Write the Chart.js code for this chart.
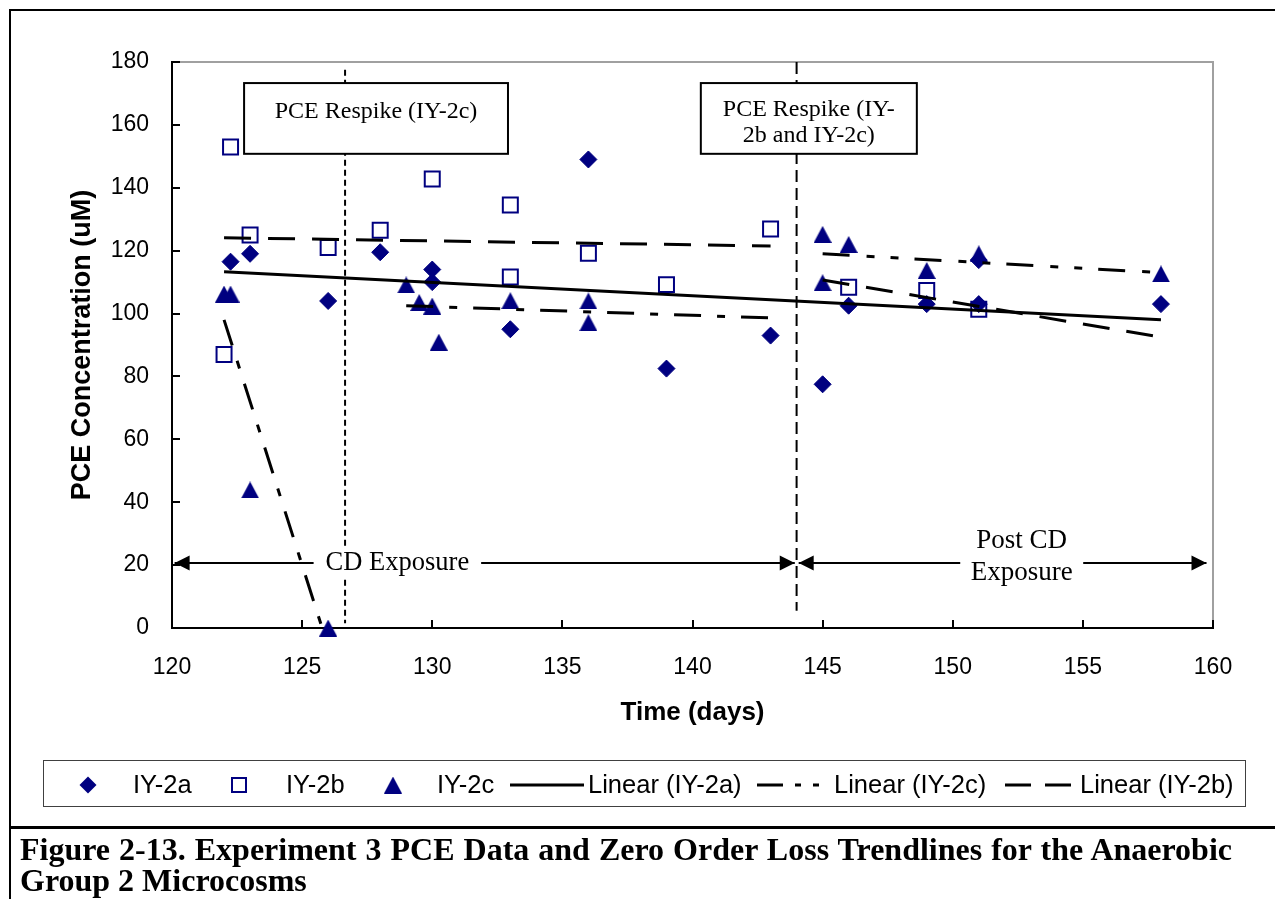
<!DOCTYPE html>
<html>
<head>
<meta charset="utf-8">
<title>PCE Data and Zero Order Loss Trendlines</title>
<script src="https://cdn.jsdelivr.net/npm/chart.js@4.4.0/dist/chart.umd.min.js"></script>
<style>
  html, body { margin: 0; padding: 0; background: #fff; }
  #page { position: relative; width: 1275px; height: 899px; overflow: hidden; background: #fff; }
  #chart { position: absolute; left: 0; top: 0; }
  .rule { position: absolute; background: #000; }
  #caption {
    position: absolute; left: 20px; top: 834px; width: 1212px; color: #000;
    font: bold 32px 'Liberation Serif', 'Times New Roman', serif; line-height: 31px;
  }
  #caption .first { text-align: justify; text-align-last: justify; white-space: nowrap; }
</style>
</head>
<body>
<div id="page">
  <canvas id="chart" width="1275" height="828"></canvas>
  <div class="rule" style="left:9px;top:9px;width:1266px;height:2px"></div>
  <div class="rule" style="left:9px;top:9px;width:2px;height:890px"></div>
  <div class="rule" style="left:9px;top:826px;width:1266px;height:3px"></div>
  <div id="caption">
    <div class="first">Figure 2-13. Experiment 3 PCE Data and Zero Order Loss Trendlines for the Anaerobic</div>
    <div>Group 2 Microcosms</div>
  </div>
</div>
<script>
// PCE concentrations (uM) by microcosm
const daysA = [122.25, 123, 126, 128, 130, 130, 133, 136, 139, 143, 145, 146, 149, 151, 151, 158];
const pceA  = [116.5, 119, 104, 119.5, 114, 110, 95, 149, 82.5, 93, 77.5, 102.5, 103, 117, 103, 103];

const daysB = [122, 122.25, 123, 126, 128, 130, 133, 133, 136, 139, 143, 146, 149, 151];
const pceB  = [87, 153, 125, 121, 126.5, 142.8, 134.5, 111.6, 119.2, 109.2, 126.9, 108.4, 107.3, 101.4];

const daysC = [122, 122.25, 123, 126, 129, 129.5, 130, 130.25, 133, 136, 136, 145, 145, 146, 149, 151, 158];
const pceC  = [106.2, 106.2, 43.9, 0, 109.1, 103.5, 102.4, 90.9, 104.1, 104, 97.1, 125.2, 109.8, 122, 113.7, 119, 112.6];

// zero order trendline end points
const trendDaysA = [122, 158];
const trendPceA  = [113.3, 98];
const trendDaysB1 = [122, 143];
const trendPceB1  = [124.1, 121.5];
const trendDaysB2 = [145, 157.7];
const trendPceB2  = [110.7, 92.9];
const trendDaysC1 = [122, 125.77];
const trendPceC1  = [98, 0];
const trendDaysC2 = [129, 143];
const trendPceC2  = [102.5, 98.6];
const trendDaysC3 = [145, 157.6];
const trendPceC3  = [119, 113.2];

// respike events (day) and the span of their marker lines
const respikeDays = [126.65, 144];
const respikeSpan1 = [177.5, 1.5];
const respikeSpan2 = [180, 5.5];

const navy = '#000080';
const sans = "'Liberation Sans', Arial, sans-serif";
const serif = "'Liberation Serif', 'Times New Roman', serif";

const pts = (xs, ys) => xs.map((v, i) => ({ x: v, y: ys[i] }));

// Excel-like triangle, centred on its bounding box
const triangle = document.createElement('canvas');
triangle.width = 18; triangle.height = 17;
(() => {
  const c = triangle.getContext('2d');
  c.fillStyle = navy;
  c.beginPath(); c.moveTo(9, 0); c.lineTo(18, 17); c.lineTo(0, 17); c.closePath(); c.fill();
})();

const markers = (label, xs, ys, style, radius, fill, bw) => ({
  label, data: pts(xs, ys), showLine: false, order: 3, clip: false,
  pointStyle: style, pointRadius: radius, pointHoverRadius: radius,
  pointBackgroundColor: fill, pointBorderColor: navy, pointBorderWidth: bw
});
const trend = (label, xs, ys, dash) => ({
  label, data: pts(xs, ys), showLine: true, order: 2,
  borderColor: '#000', borderWidth: 3, borderDash: dash, pointRadius: 0, pointHoverRadius: 0
});
const marker = (xs, ys, dash) => ({
  label: 'respike', data: pts(xs, ys), showLine: true, order: 1,
  borderColor: '#000', borderWidth: 2, borderDash: dash, pointRadius: 0, pointHoverRadius: 0
});

const dashC = [27, 16, 8, 16];
const dashC2 = [27, 17, 8, 16, 8, 16];
const dashB = [27, 17];

function arrowHead(ctx, tipX, y, dir) {
  ctx.beginPath();
  ctx.moveTo(tipX, y);
  ctx.lineTo(tipX - dir * 15, y - 7.5);
  ctx.lineTo(tipX - dir * 15, y + 7.5);
  ctx.closePath();
  ctx.fill();
}

function boxedText(ctx, x0, y0, x1, y1, lines) {
  ctx.fillStyle = '#fff';
  ctx.fillRect(x0, y0, x1 - x0, y1 - y0);
  ctx.strokeStyle = '#000';
  ctx.lineWidth = 2;
  ctx.strokeRect(x0, y0, x1 - x0, y1 - y0);
  ctx.fillStyle = '#000';
  ctx.font = '24px ' + serif;
  ctx.textAlign = 'center';
  ctx.textBaseline = 'alphabetic';
  lines.forEach(l => ctx.fillText(l.text, (x0 + x1) / 2, l.y));
}

const decorations = {
  id: 'decorations',
  beforeDraw(chart) {
    const { ctx, width, height } = chart;
    ctx.save();
    ctx.fillStyle = '#fff';
    ctx.fillRect(0, 0, width, height);
    ctx.restore();
  },
  beforeDatasetsDraw(chart) {
    const { ctx, chartArea: a, scales: { x, y } } = chart;
    ctx.save();
    ctx.strokeStyle = '#a0a0a0';
    ctx.lineWidth = 2;
    ctx.beginPath();
    ctx.moveTo(a.left, a.top); ctx.lineTo(a.right, a.top); ctx.lineTo(a.right, a.bottom);
    ctx.stroke();
    // tick marks point into the plot
    ctx.strokeStyle = '#000';
    x.ticks.forEach(t => {
      const p = Math.round(x.getPixelForValue(t.value));
      ctx.beginPath(); ctx.moveTo(p, a.bottom); ctx.lineTo(p, a.bottom - 8); ctx.stroke();
    });
    y.ticks.forEach(t => {
      const p = Math.round(y.getPixelForValue(t.value));
      ctx.beginPath(); ctx.moveTo(a.left, p); ctx.lineTo(a.left + 8, p); ctx.stroke();
    });
    ctx.restore();
  },
  afterDatasetsDraw(chart) {
    const { ctx, scales: { x, y } } = chart;
    const px = v => x.getPixelForValue(v);
    const py = v => y.getPixelForValue(v);
    ctx.save();

    // exposure periods
    const ay = Math.round(py(20.7));
    ctx.strokeStyle = '#000'; ctx.fillStyle = '#000'; ctx.lineWidth = 2;
    ctx.beginPath();
    ctx.moveTo(px(120.1), ay); ctx.lineTo(px(143.93), ay);
    ctx.moveTo(px(144.08), ay); ctx.lineTo(px(159.75), ay);
    ctx.stroke();
    arrowHead(ctx, px(120.1), ay, -1);
    arrowHead(ctx, px(143.93), ay, 1);
    arrowHead(ctx, px(144.08), ay, -1);
    arrowHead(ctx, px(159.75), ay, 1);

    ctx.textAlign = 'center';
    ctx.textBaseline = 'middle';
    ctx.font = '26.5px ' + serif;
    const cdX = px(128.66);
    const cdW = ctx.measureText('CD Exposure').width + 24;
    ctx.fillStyle = '#fff';
    ctx.fillRect(cdX - cdW / 2, ay - 15, cdW, 30);
    ctx.fillStyle = '#000';
    ctx.fillText('CD Exposure', cdX, ay);

    ctx.font = '27px ' + serif;
    const postX = px(152.65);
    const postW = ctx.measureText('Exposure').width + 21;
    ctx.fillStyle = '#fff';
    ctx.fillRect(postX - postW / 2, ay - 12, postW, 24);
    ctx.fillStyle = '#000';
    ctx.fillText('Post CD', postX, ay - 22);
    ctx.fillText('Exposure', postX, ay + 10);

    // respike notes
    boxedText(ctx, px(122.77), py(173.3), px(132.91), py(150.8),
      [{ text: 'PCE Respike (IY-2c)', y: py(162.2) }]);
    boxedText(ctx, px(140.32), py(173.3), px(148.62), py(150.8),
      [{ text: 'PCE Respike (IY-', y: py(162.8) }, { text: '2b and IY-2c)', y: py(154.5) }]);

    ctx.restore();
  },
  afterDraw(chart) {
    const { ctx } = chart;
    ctx.save();
    // legend
    ctx.strokeStyle = '#404040'; ctx.lineWidth = 1;
    ctx.strokeRect(43.5, 760.5, 1202, 46);
    const ly = 785;
    ctx.fillStyle = navy;
    ctx.beginPath();
    ctx.moveTo(79.5, ly); ctx.lineTo(88, ly - 8.5); ctx.lineTo(96.5, ly); ctx.lineTo(88, ly + 8.5);
    ctx.closePath(); ctx.fill();
    ctx.strokeStyle = navy; ctx.lineWidth = 2;
    ctx.strokeRect(232, ly - 7, 14, 14);
    ctx.drawImage(triangle, 393 - 9, ly - 8.5);

    ctx.strokeStyle = '#000'; ctx.lineWidth = 3;
    const sample = (x0, x1, dash) => {
      ctx.setLineDash(dash);
      ctx.beginPath(); ctx.moveTo(x0, ly); ctx.lineTo(x1, ly); ctx.stroke();
    };
    sample(510, 584, []);
    sample(757, 831, [26, 12, 6, 12, 6, 12]);
    sample(1005, 1076, [26, 14]);
    ctx.setLineDash([]);

    ctx.fillStyle = '#000';
    ctx.font = '25.5px ' + sans;
    ctx.textAlign = 'left';
    ctx.textBaseline = 'middle';
    [['IY-2a', 133], ['IY-2b', 286], ['IY-2c', 437],
     ['Linear (IY-2a)', 588], ['Linear (IY-2c)', 834], ['Linear (IY-2b)', 1080]]
      .forEach(([t, tx]) => ctx.fillText(t, tx, ly + 1));
    ctx.restore();
  }
};

new Chart(document.getElementById('chart'), {
  type: 'scatter',
  data: {
    datasets: [
      markers('IY-2a', daysA, pceA, 'rectRot', 8.5, navy, 1),
      markers('IY-2b', daysB, pceB, 'rect', 10.6, 'rgba(0,0,0,0)', 2),
      markers('IY-2c', daysC, pceC, triangle, 9, navy, 0),
      trend('Linear (IY-2a)', trendDaysA, trendPceA, []),
      trend('Linear (IY-2c)', trendDaysC1, trendPceC1, dashC),
      trend('Linear (IY-2c)', trendDaysC2, trendPceC2, dashC),
      trend('Linear (IY-2c)', trendDaysC3, trendPceC3, dashC2),
      trend('Linear (IY-2b)', trendDaysB1, trendPceB1, dashB),
      trend('Linear (IY-2b)', trendDaysB2, trendPceB2, dashB),
      marker([respikeDays[0], respikeDays[0]], respikeSpan1, [6, 4]),
      marker([respikeDays[1], respikeDays[1]], respikeSpan2, [12, 6])
    ]
  },
  options: {
    responsive: false,
    animation: false,
    devicePixelRatio: 1,
    events: [],
    layout: { padding: { left: 0, top: 62, right: 62, bottom: 100 } },
    plugins: { legend: { display: false }, tooltip: { enabled: false } },
    font: { family: sans },
    scales: {
      x: {
        type: 'linear', min: 120, max: 160,
        ticks: { stepSize: 5, color: '#000', padding: 26, font: { family: sans, size: 23 } },
        grid: { display: false, drawTicks: false },
        border: { display: true, color: '#000', width: 2 },
        title: {
          display: true, text: 'Time (days)', color: '#000',
          font: { family: sans, size: 26, weight: 'bold' }, padding: { top: 0, bottom: 0 }
        },
        afterFit: s => { s.height = 100; }
      },
      y: {
        type: 'linear', min: 0, max: 180,
        ticks: { stepSize: 20, color: '#000', padding: 23, font: { family: sans, size: 23 } },
        grid: { display: false, drawTicks: false },
        border: { display: true, color: '#000', width: 2 },
        title: {
          display: true, text: 'PCE Concentration (uM)', color: '#000',
          font: { family: sans, size: 27, weight: 'bold' }, padding: { top: 66, bottom: 0 }
        },
        afterFit: s => { s.width = 172; }
      }
    }
  },
  plugins: [decorations]
});
</script>
</body>
</html>
